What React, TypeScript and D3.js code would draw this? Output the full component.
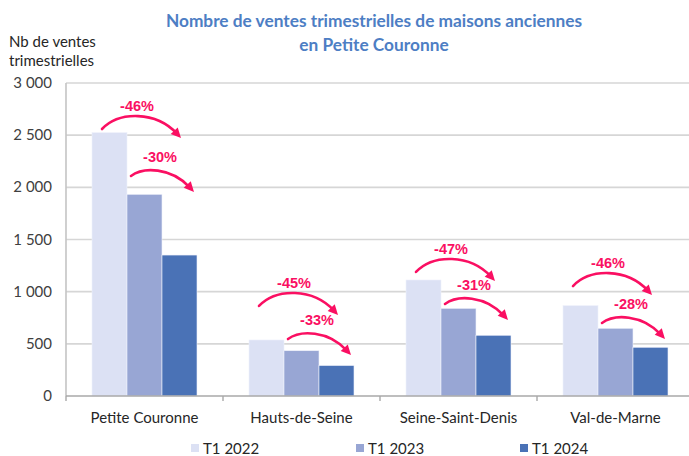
import React from "react";
import * as d3 from "d3";

const categories = ["Petite Couronne", "Hauts-de-Seine", "Seine-Saint-Denis", "Val-de-Marne"];
const seriesNames = ["T1 2022", "T1 2023", "T1 2024"];
const values2022 = [2524, 537, 1112, 866];
const values2023 = [1933, 434, 840, 649];
const values2024 = [1351, 292, 582, 467];
const change2022to2024 = ["-46%", "-45%", "-47%", "-46%"];
const change2023to2024 = ["-30%", "-33%", "-31%", "-28%"];
// level (in sales units) at which each annotation arrow starts
const arrowLevel2022 = [2559, 863, 1189, 1054];
const arrowLevel2023 = [2109, 546, 882, 700];
const yTicks = [0, 500, 1000, 1500, 2000, 2500, 3000];

const colors = ["#DCE1F4", "#98A6D4", "#4A72B6"];
const accent = "#FA0F62";
const FONT = "Lato, 'Open Sans', sans-serif";

const W = 689;
const H = 456;
const left = 66;
const right = 694;
const top = 83;
const bottom = 396;

function fmt(v: number) {
  const s = String(v);
  return s.length > 3 ? s.slice(0, s.length - 3) + " " + s.slice(-3) : s;
}

function Arrow({ x0, y0, x1, y1, c1x, c1y, c2x, c2y }: any) {
  const dx = x1 - c2x;
  const dy = y1 - c2y;
  const len = Math.sqrt(dx * dx + dy * dy);
  const ux = dx / len;
  const uy = dy / len;
  const headLen = 10;
  const headW = 4.8;
  const bx = x1 - ux * headLen;
  const by = y1 - uy * headLen;
  const px = -uy;
  const py = ux;
  const ex = x1 - ux * 6;
  const ey = y1 - uy * 6;
  const path = d3.path();
  path.moveTo(x0, y0);
  path.bezierCurveTo(c1x, c1y, c2x, c2y, ex, ey);
  return (
    <g>
      <path d={path.toString()} fill="none" stroke={accent} strokeWidth={2.6} strokeLinecap="round" />
      <polygon
        points={`${x1},${y1} ${bx + px * headW},${by + py * headW} ${bx - px * headW},${by - py * headW}`}
        fill={accent}
      />
    </g>
  );
}

export default function App() {
  const x = d3.scaleBand<string>().domain(categories).range([left, right]).paddingInner(0).paddingOuter(0);
  const xs = d3
    .scaleBand<string>()
    .domain(seriesNames)
    .range([0, x.bandwidth()])
    .paddingInner(0)
    .paddingOuter(0.743);
  const y = d3.scaleLinear().domain([0, 3000]).range([bottom, top]);
  const series = [values2022, values2023, values2024];
  const bw = xs.bandwidth();

  return (
    <svg
      width={W}
      height={H}
      style={{ position: "absolute", left: 0, top: 0, background: "#fff" }}
      fontFamily={FONT}
    >
      <rect width={W} height={H} fill="#fff" />
      {/* title */}
      <text x={374} y={27} textAnchor="middle" fontWeight="bold" fontSize={17.3} fill="#4D7EC4">
        Nombre de ventes trimestrielles de maisons anciennes
      </text>
      <text x={374} y={51} textAnchor="middle" fontWeight="bold" fontSize={17.3} fill="#4D7EC4">
        en Petite Couronne
      </text>
      {/* y axis title */}
      <text x={9} y={47} fontSize={15} fill="#262626">Nb de ventes</text>
      <text x={9} y={66} fontSize={15} fill="#262626">trimestrielles</text>

      {/* grid */}
      {yTicks.map((t) => (
        <g key={t}>
          {t > 0 && (
            <line x1={left} x2={W} y1={y(t)} y2={y(t)} stroke="#D6D6D6" strokeWidth={1.6} />
          )}
          <text x={52} y={y(t) + 5} textAnchor="end" fontSize={15} fill="#404040">
            {fmt(t)}
          </text>
        </g>
      ))}
      {/* left axis */}
      <line x1={left} x2={left} y1={top} y2={bottom} stroke="#C4C4C4" strokeWidth={1.6} />

      {/* bars */}
      {categories.map((c, i) =>
        series.map((vals, s) => (
          <rect
            key={c + s}
            x={(x(c) as number) + (xs(seriesNames[s]) as number)}
            y={y(vals[i])}
            width={bw}
            height={bottom - y(vals[i])}
            fill={colors[s]}
            stroke="#EEF0FA"
            strokeWidth={0.6}
          />
        ))
      )}

      {/* bottom axis */}
      <line x1={left} x2={W} y1={bottom} y2={bottom} stroke="#A8A8A8" strokeWidth={1.6} />
      {categories.map((c) => (
        <line
          key={c}
          x1={x(c) as number}
          x2={x(c) as number}
          y1={bottom}
          y2={bottom + 5}
          stroke="#A8A8A8"
          strokeWidth={1.4}
        />
      ))}
      {categories.map((c) => (
        <text
          key={c}
          x={(x(c) as number) + x.bandwidth() / 2}
          y={423}
          textAnchor="middle"
          fontSize={15}
          fill="#262626"
        >
          {c}
        </text>
      ))}

      {/* annotations */}
      {categories.map((c, i) => {
        const b1 = (x(c) as number) + (xs(seriesNames[0]) as number);
        const b2 = (x(c) as number) + (xs(seriesNames[1]) as number);
        const b3 = (x(c) as number) + (xs(seriesNames[2]) as number);
        const bx0 = b1 + 10;
        const by0 = y(arrowLevel2022[i]);
        const bx1 = b3 + 19;
        const by1 = by0 + 9;
        const sx0 = b2 + 4;
        const sy0 = y(arrowLevel2023[i]);
        const sx1 = b3 + bw - 3;
        const sy1 = sy0 + 16;
        return (
          <g key={c}>
            <Arrow
              x0={bx0}
              y0={by0}
              x1={bx1}
              y1={by1}
              c1x={bx0 + 17}
              c1y={by0 - 18}
              c2x={bx0 + 54}
              c2y={by0 - 18}
            />
            <text x={bx0 + 35} y={by0 - 18} textAnchor="middle" fontWeight="bold" fontSize={14.5} fill={accent} fontFamily="'Liberation Sans', Arial, sans-serif">
              {change2022to2024[i]}
            </text>
            <Arrow
              x0={sx0}
              y0={sy0}
              x1={sx1}
              y1={sy1}
              c1x={sx0 + 12}
              c1y={sy0 - 9}
              c2x={sx0 + 40}
              c2y={sy0 - 9}
            />
            <text x={sx0 + 29} y={sy0 - 14} textAnchor="middle" fontWeight="bold" fontSize={14.5} fill={accent} fontFamily="'Liberation Sans', Arial, sans-serif">
              {change2023to2024[i]}
            </text>
          </g>
        );
      })}

      {/* legend */}
      {seriesNames.map((s, i) => {
        const lx = [191, 356, 520][i];
        return (
          <g key={s}>
            <rect x={lx} y={444} width={8} height={8} fill={colors[i]} />
            <text x={lx + 12} y={454} fontSize={15} fill="#262626">
              {s}
            </text>
          </g>
        );
      })}
    </svg>
  );
}
